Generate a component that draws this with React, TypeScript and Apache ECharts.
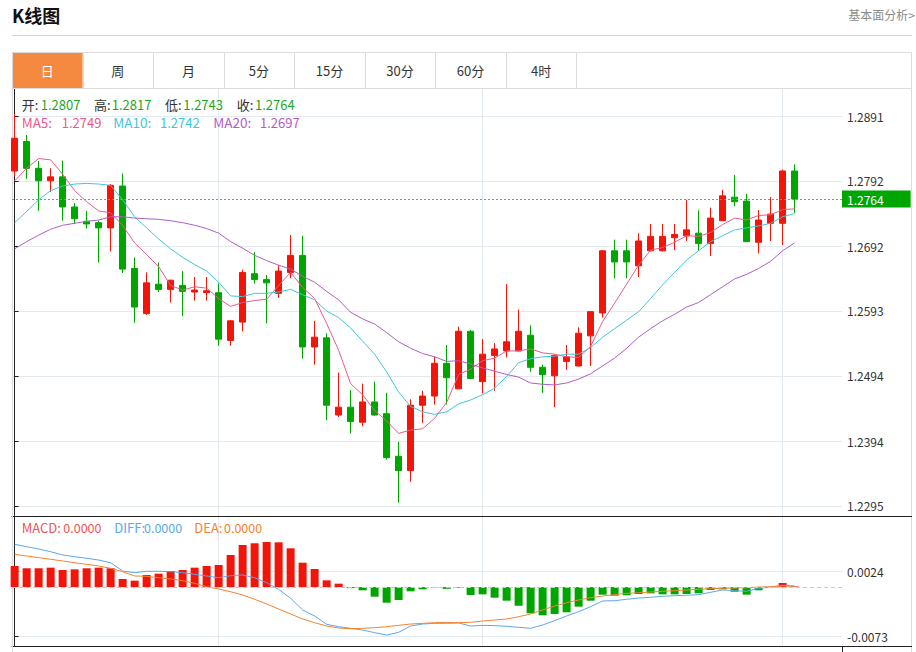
import React, { useEffect, useRef } from "react";
import * as echarts from "echarts";

// ---------------- data ----------------
const openPrices = [
  1.2807, 1.2852, 1.2811, 1.2792, 1.2798, 1.2752, 1.2730, 1.2728, 1.2720, 1.2784,
  1.2658, 1.2589, 1.2634, 1.2626, 1.2632, 1.2622, 1.2621, 1.2621, 1.2548, 1.2576,
  1.2650, 1.2641, 1.2620, 1.2652, 1.2678, 1.2538, 1.2552, 1.2434, 1.2446, 1.2423,
  1.2454, 1.2436, 1.2371, 1.2349, 1.2449, 1.2463, 1.2513, 1.2474, 1.2562, 1.2485,
  1.2525, 1.2532, 1.2532, 1.2556, 1.2507, 1.2494, 1.2516, 1.2509, 1.2555, 1.2590,
  1.2685, 1.2685, 1.2662, 1.2685, 1.2685, 1.2705, 1.2708, 1.2712, 1.2696, 1.2731,
  1.2767, 1.2761, 1.2698, 1.2727, 1.2727, 1.2807,
];
const closePrices = [
  1.2857, 1.2811, 1.2792, 1.2798, 1.2752, 1.2734, 1.2726, 1.2720, 1.2785, 1.2657,
  1.2599, 1.2636, 1.2626, 1.2640, 1.2623, 1.2625, 1.2624, 1.2550, 1.2578, 1.2652,
  1.2641, 1.2636, 1.2654, 1.2678, 1.2538, 1.2553, 1.2449, 1.2446, 1.2424, 1.2454,
  1.2434, 1.2369, 1.2349, 1.2449, 1.2463, 1.2513, 1.2491, 1.2562, 1.2490, 1.2527,
  1.2535, 1.2546, 1.2562, 1.2507, 1.2496, 1.2525, 1.2523, 1.2559, 1.2592, 1.2685,
  1.2668, 1.2668, 1.2700, 1.2707, 1.2707, 1.2710, 1.2717, 1.2696, 1.2735, 1.2769,
  1.2760, 1.2699, 1.2732, 1.2741, 1.2807, 1.2764,
];
const lowPrices = [
  1.2799, 1.2795, 1.2746, 1.2775, 1.2731, 1.2726, 1.2719, 1.2667, 1.2684, 1.2651,
  1.2575, 1.2587, 1.2622, 1.2606, 1.2585, 1.2609, 1.2609, 1.2540, 1.2540, 1.2562,
  1.2635, 1.2574, 1.2613, 1.2643, 1.2520, 1.2511, 1.2426, 1.2431, 1.2406, 1.2417,
  1.2433, 1.2366, 1.2300, 1.2332, 1.2422, 1.2450, 1.2450, 1.2474, 1.2490, 1.2467,
  1.2471, 1.2522, 1.2532, 1.2500, 1.2468, 1.2446, 1.2503, 1.2508, 1.2509, 1.2583,
  1.2643, 1.2643, 1.2645, 1.2684, 1.2684, 1.2686, 1.2700, 1.2685, 1.2677, 1.2731,
  1.2753, 1.2699, 1.2681, 1.2700, 1.2694, 1.2743,
];
const highPrices = [
  1.2894, 1.2862, 1.2822, 1.2811, 1.2823, 1.2758, 1.2746, 1.2731, 1.2787, 1.2803,
  1.2675, 1.2652, 1.2667, 1.2641, 1.2654, 1.2645, 1.2645, 1.2635, 1.2579, 1.2656,
  1.2683, 1.2648, 1.2663, 1.2709, 1.2708, 1.2578, 1.2559, 1.2499, 1.2472, 1.2482,
  1.2485, 1.2468, 1.2393, 1.2458, 1.2471, 1.2523, 1.2541, 1.2569, 1.2564, 1.2550,
  1.2544, 1.2634, 1.2595, 1.2571, 1.2511, 1.2527, 1.2541, 1.2568, 1.2593, 1.2686,
  1.2702, 1.2702, 1.2712, 1.2726, 1.2726, 1.2726, 1.2763, 1.2747, 1.2751, 1.2778,
  1.2801, 1.2772, 1.2747, 1.2767, 1.2809, 1.2817,
];
const ma5 = [
  1.2792, 1.2811, 1.2826, 1.2824, 1.2802, 1.2777, 1.2760, 1.2746, 1.2743, 1.2724,
  1.2697, 1.2679, 1.2661, 1.2632, 1.2625, 1.2630, 1.2628, 1.2612, 1.2600, 1.2606,
  1.2609, 1.2611, 1.2632, 1.2652, 1.2629, 1.2612, 1.2574, 1.2533, 1.2482, 1.2465,
  1.2441, 1.2425, 1.2406, 1.2411, 1.2413, 1.2429, 1.2453, 1.2496, 1.2504, 1.2517,
  1.2521, 1.2532, 1.2532, 1.2535, 1.2529, 1.2527, 1.2523, 1.2522, 1.2539, 1.2577,
  1.2605, 1.2634, 1.2663, 1.2686, 1.2690, 1.2698, 1.2708, 1.2707, 1.2713, 1.2725,
  1.2735, 1.2732, 1.2739, 1.2740, 1.2748, 1.2749,
];
const ma10 = [
  1.2728, 1.2745, 1.2763, 1.2777, 1.2784, 1.2787, 1.2788, 1.2787, 1.2785, 1.2763,
  1.2737, 1.2720, 1.2703, 1.2688, 1.2675, 1.2664, 1.2654, 1.2637, 1.2616, 1.2615,
  1.2620, 1.2620, 1.2622, 1.2626, 1.2618, 1.2610, 1.2593, 1.2583, 1.2567, 1.2547,
  1.2527, 1.2500, 1.2469, 1.2447, 1.2439, 1.2435, 1.2439, 1.2451, 1.2457, 1.2465,
  1.2475, 1.2493, 1.2514, 1.2520, 1.2523, 1.2524, 1.2527, 1.2527, 1.2537, 1.2553,
  1.2566, 1.2579, 1.2592, 1.2612, 1.2633, 1.2652, 1.2671, 1.2685, 1.2699, 1.2708,
  1.2717, 1.2720, 1.2723, 1.2727, 1.2737, 1.2742,
];
const ma20 = [
  1.2688, 1.2699, 1.2709, 1.2718, 1.2724, 1.2727, 1.2730, 1.2732, 1.2737, 1.2737,
  1.2735, 1.2734, 1.2733, 1.2731, 1.2728, 1.2724, 1.2719, 1.2712, 1.2699, 1.2689,
  1.2678, 1.2670, 1.2663, 1.2657, 1.2646, 1.2637, 1.2623, 1.2610, 1.2591, 1.2581,
  1.2573, 1.2560, 1.2546, 1.2536, 1.2528, 1.2523, 1.2516, 1.2517, 1.2512, 1.2506,
  1.2501, 1.2496, 1.2492, 1.2483, 1.2481, 1.2480, 1.2483, 1.2489, 1.2497, 1.2509,
  1.2521, 1.2536, 1.2553, 1.2566, 1.2578, 1.2588, 1.2599, 1.2606, 1.2618, 1.2630,
  1.2642, 1.2649, 1.2658, 1.2669, 1.2685, 1.2697,
];
const macdBars = [
  0.00315, 0.00281, 0.00281, 0.0029, 0.00255, 0.00265, 0.00281, 0.0029, 0.00281, 0.00121,
  0.00096, 0.00181, 0.002, 0.0024, 0.00255, 0.0029, 0.00315, 0.0033, 0.00479, 0.00628,
  0.00654, 0.00673, 0.00668, 0.00579, 0.00364, 0.0027, 0.00101, 0.00051, -0.00015, -0.00048,
  -0.00143, -0.00233, -0.00193, -0.00063, -0.00033, -0.00005, -0.00026, -0.0001, -0.00118, -0.00108,
  -0.00158, -0.00203, -0.00278, -0.00391, -0.00421, -0.00401, -0.00376, -0.00292, -0.00203, -0.00113,
  -0.00128, -0.00122, -0.00103, -0.00093, -0.00108, -0.00108, -0.00103, -0.00093, -0.00043, -0.00033,
  -0.00069, -0.00113, -0.00048, -0.00005, 0.00061, 0.0001,
];
const diffLine = [
  0.00639, 0.00603, 0.00569, 0.00528, 0.00479, 0.00454, 0.0043, 0.00404, 0.00364, 0.0024,
  0.00215, 0.00236, 0.00236, 0.0023, 0.00215, 0.00191, 0.00166, 0.0014, 0.0017, 0.00181,
  0.0014, 0.00066, -0.00033, -0.00167, -0.00342, -0.00431, -0.00555, -0.00591, -0.00615, -0.0064,
  -0.0068, -0.00715, -0.00675, -0.00581, -0.00551, -0.00541, -0.00541, -0.00536, -0.00581, -0.00571,
  -0.00575, -0.00585, -0.006, -0.00615, -0.00566, -0.00501, -0.00431, -0.00367, -0.00292, -0.00207,
  -0.00203, -0.00182, -0.00163, -0.00152, -0.00137, -0.00128, -0.00122, -0.00113, -0.00078, -0.00043,
  -0.00054, -0.00063, -0.00018, 0.0, 0.00027, 0.00016,
];
const deaLine = [
  0.00489, 0.00464, 0.00439, 0.00415, 0.0039, 0.00364, 0.0034, 0.00315, 0.00281, 0.0023,
  0.00166, 0.00161, 0.0014, 0.00121, 0.00096, 0.00057, 0.00006, -0.00028, -0.00069, -0.00118,
  -0.00182, -0.00252, -0.00327, -0.00401, -0.00476, -0.00531, -0.00581, -0.0061, -0.00621, -0.00615,
  -0.00606, -0.00591, -0.00571, -0.00551, -0.00541, -0.00531, -0.00526, -0.00531, -0.00526, -0.00506,
  -0.00491, -0.00476, -0.00442, -0.00401, -0.00342, -0.00282, -0.00233, -0.00193, -0.00158, -0.00133,
  -0.00113, -0.00093, -0.00084, -0.00073, -0.00063, -0.00054, -0.00043, -0.00033, -0.00024, -0.00018,
  -0.00013, -0.00009, 0.0, 0.00006, 0.00016, 0.00012,
];
const priceTicks = [1.2295, 1.2394, 1.2494, 1.2593, 1.2692, 1.2792, 1.2891];
const macdTicks = [0.0024, -0.0073];
const xSplitIndices = [17, 39, 64];
const tabLabels = ["日", "周", "月", "5分", "15分", "30分", "60分", "4时"];

// ---------------- styles ----------------
const FONT = "'Noto Sans CJK SC', 'Noto Sans', sans-serif";
const UP = "#f2150a";
const DOWN = "#00a600";
const C_MA5 = "#ee5a8c";
const C_MA10 = "#40c6dc";
const C_MA20 = "#b35cc9";
const C_DIFF = "#5aa8ee";
const C_DEA = "#f5822e";
const C_MACD = "#ef5555";
const GRID = "#e2eaf0";
const BORDER = "#dcdcdc";
const AXIS = "#222";

const n = closePrices.length;
const last = n - 1;

function txt(x: number, y: number, text: string, fill: string, size: number, extra: any = {}) {
  return {
    type: "text",
    x,
    y,
    silent: true,
    z: 100,
    style: {
      text,
      fill,
      font: `${extra.bold ? "bold " : ""}${size}px ${FONT}`,
      align: extra.align || "left",
      verticalAlign: "middle",
    },
  };
}
function ln(x1: number, y1: number, x2: number, y2: number, stroke: string, z = 50) {
  return { type: "line", silent: true, z, shape: { x1, y1, x2, y2 }, style: { stroke, lineWidth: 1 } };
}

function buildGraphic() {
  const g: any[] = [];
  g.push(txt(12, 15, "K线图", "#111", 18, { bold: true }));
  g.push(txt(915, 14, "基本面分析>", "#8c8c8c", 12, { align: "right" }));
  g.push(ln(12, 35.5, 912, 35.5, "#d2d2d2"));
  // tabs
  const tabX0 = 12;
  const tabW = 70.55;
  g.push({ type: "rect", silent: true, z: 40, shape: { x: tabX0, y: 52, width: tabW, height: 36.5 }, style: { fill: "#f48a40" } });
  g.push(ln(12, 52.5, 912, 52.5, BORDER));
  g.push(ln(12, 88.5, 912, 88.5, BORDER));
  g.push(ln(911.5, 52, 911.5, 652, BORDER));
  g.push(ln(12.5, 52, 12.5, 652, BORDER, 1));
  for (let i = 0; i <= tabLabels.length; i++) {
    const x = Math.round(tabX0 + i * tabW) + 0.5;
    g.push(ln(x, 52, x, 88, BORDER));
  }
  tabLabels.forEach((t, i) => {
    g.push(txt(tabX0 + (i + 0.5) * tabW, 70, t, i === 0 ? "#fff" : "#333", 13, { align: "center" }));
  });
  // OHLC legend
  const ohlc = [
    ["开:", openPrices[last], 21.7, 40.7],
    ["高:", highPrices[last], 94, 111.7],
    ["低:", lowPrices[last], 165, 183.3],
    ["收:", closePrices[last], 236.7, 255],
  ] as const;
  ohlc.forEach(([l, v, xl, xv]) => {
    g.push(txt(xl, 104, l, "#333", 13));
    g.push(txt(xv, 104, (v as number).toFixed(4), "#1ea51e", 13));
  });
  const mas = [
    ["MA5:", ma5[last], 21.7, 61.7, C_MA5],
    ["MA10:", ma10[last], 113.3, 160, C_MA10],
    ["MA20:", ma20[last], 213.3, 260, C_MA20],
  ] as const;
  mas.forEach(([l, v, xl, xv, c]) => {
    g.push(txt(xl, 122, l, c, 13.5));
    g.push(txt(xv, 122, (v as number).toFixed(4), c, 13));
  });
  const macdLeg = [
    ["MACD:", 21.7, 63.3, C_MACD],
    ["DIFF:", 114.3, 144, C_DIFF],
    ["DEA:", 194.3, 224, C_DEA],
  ] as const;
  macdLeg.forEach(([l, xl, xv, c]) => {
    g.push(txt(xl, 527, l, c, 13));
    g.push(txt(xv, 527, "0.0000", c, 12.5));
  });
  // separators on right of axis
  g.push(ln(842, 516.5, 912, 516.5, AXIS));
  g.push(ln(842, 646.5, 912, 646.5, AXIS));
  g.push(ln(842.5, 646, 842.5, 652, AXIS));
  return g;
}

function buildOption() {
  const xAxisCommon = (gridIndex: number) => ({
    type: "value",
    gridIndex,
    min: -0.22,
    max: 68.95,
    axisLine: { show: true, onZero: false, lineStyle: { color: AXIS, width: 1 } },
    axisTick: { show: false, customValues: xSplitIndices },
    axisLabel: { show: false },
    splitLine: { show: true, lineStyle: { color: GRID, width: 1 } },
  });
  const maSeries = [
    [ma5, C_MA5],
    [ma10, C_MA10],
    [ma20, C_MA20],
  ].map(([arr, c], k) => {
    const s: any = {
      type: "line",
      xAxisIndex: 0,
      yAxisIndex: 0,
      silent: true,
      symbol: "none",
      data: (arr as number[]).map((v, i) => [i, v]),
      lineStyle: { color: c as string, width: 1 },
    };
    if (k === 0) {
      s.markLine = {
        silent: true,
        precision: 4,
        symbol: ["none", "none"],
        data: [{ yAxis: closePrices[last] }],
        lineStyle: { color: "#4cc04c", type: [2, 2], width: 1 },
        label: {
          show: true,
          position: "end",
          distance: 0,
          formatter: () => closePrices[last].toFixed(4),
          color: "#fff",
          backgroundColor: "#00a600",
          padding: [3, 27, 2, 5],
          fontSize: 12,
          fontFamily: FONT,
        },
      };
    }
    return s;
  });
  return {
    animation: false,
    textStyle: { fontFamily: FONT },
    grid: [
      { left: 12, top: 88, width: 830, height: 428 },
      { left: 12, top: 516, width: 830, height: 130 },
    ],
    xAxis: [xAxisCommon(0), xAxisCommon(1)],
    yAxis: [
      {
        type: "value",
        gridIndex: 0,
        position: "right",
        min: 1.22797,
        max: 1.29338,
        axisLine: { show: true, lineStyle: { color: AXIS } },
        axisTick: { show: true, length: 4, customValues: priceTicks, lineStyle: { color: AXIS } },
        axisLabel: {
          customValues: priceTicks,
          formatter: (v: number) => v.toFixed(4),
          color: "#333",
          fontSize: 12,
          margin: 5,
          fontFamily: FONT,
        },
        splitLine: { show: true, lineStyle: { color: GRID } },
      },
      {
        type: "value",
        gridIndex: 1,
        position: "right",
        min: -0.00879,
        max: 0.01061,
        axisLine: { show: true, lineStyle: { color: AXIS } },
        axisTick: { show: true, length: 4, customValues: macdTicks, lineStyle: { color: AXIS } },
        axisLabel: {
          customValues: macdTicks,
          formatter: (v: number) => v.toFixed(4),
          color: "#333",
          fontSize: 12,
          margin: 5,
          fontFamily: FONT,
        },
        splitLine: { show: true, lineStyle: { color: GRID } },
      },
    ],
    series: [
      {
        type: "candlestick",
        xAxisIndex: 0,
        yAxisIndex: 0,
        barWidth: 7,
        silent: true,
        data: openPrices.map((o, i) => [i, o, closePrices[i], lowPrices[i], highPrices[i]]),
        itemStyle: { color: UP, color0: DOWN, borderColor: UP, borderColor0: DOWN, borderWidth: 1 },
      },
      ...maSeries,
      {
        type: "bar",
        xAxisIndex: 1,
        yAxisIndex: 1,
        barWidth: 8,
        silent: true,
        data: macdBars.map((v, i) => ({ value: [i, v], itemStyle: { color: v >= 0 ? UP : DOWN } })),
        markLine: {
          silent: true,
          precision: 4,
          symbol: ["none", "none"],
          data: [{ yAxis: 0 }],
          lineStyle: { color: "#a6d4f2", type: [4, 3], width: 1 },
          label: { show: false },
        },
      },
      ...[
        [diffLine, C_DIFF],
        [deaLine, C_DEA],
      ].map(([arr, c]) => ({
        type: "line",
        xAxisIndex: 1,
        yAxisIndex: 1,
        silent: true,
        symbol: "none",
        data: (arr as number[]).map((v, i) => [i, v]),
        lineStyle: { color: c as string, width: 1 },
      })),
    ],
    graphic: buildGraphic(),
  };
}

export default function App() {
  const ref = useRef<HTMLDivElement>(null);
  useEffect(() => {
    if (!ref.current) return;
    const chart = echarts.init(ref.current, null, { renderer: "svg" });
    chart.setOption(buildOption() as any);
    return () => chart.dispose();
  }, []);
  return (
    <div
      ref={ref}
      style={{ position: "fixed", left: 0, top: 0, width: 916, height: 652, background: "#fff" }}
    />
  );
}
